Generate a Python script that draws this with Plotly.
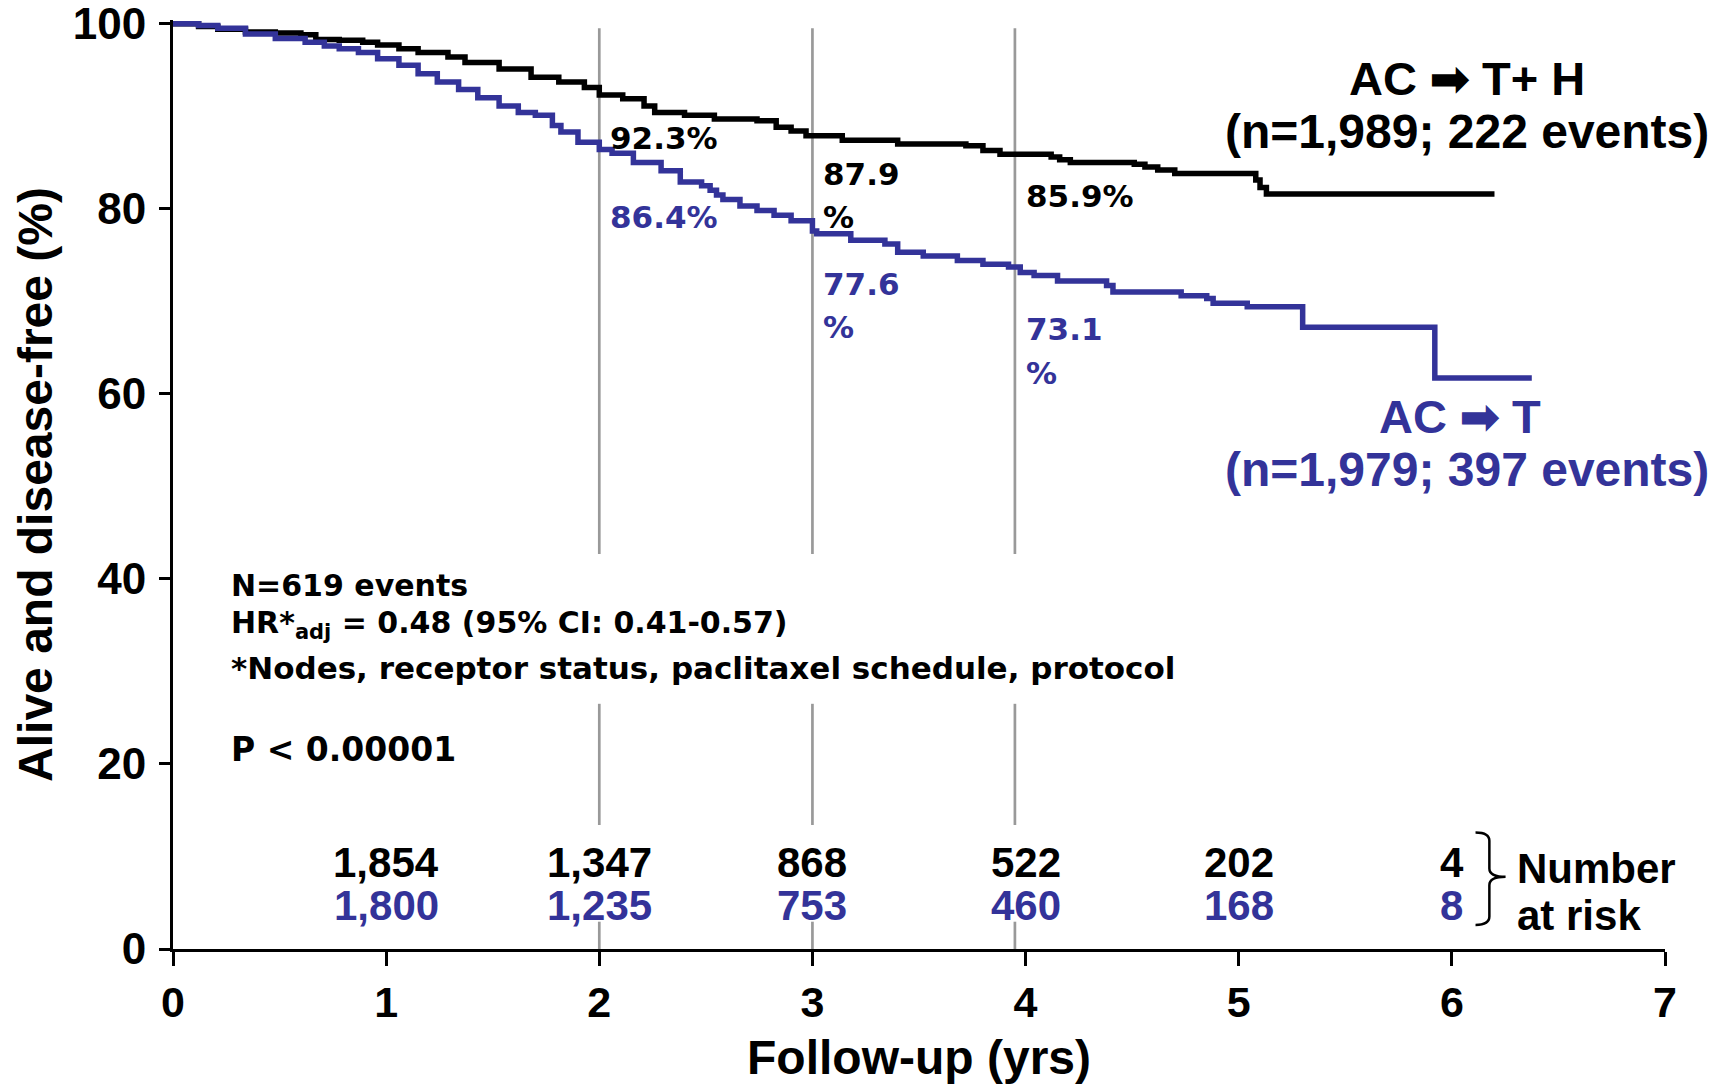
import plotly.graph_objects as go

# Kaplan-Meier estimates: follow-up (years) and % alive and disease-free
acth_years = [0, 0.12, 0.21, 0.34, 0.48, 0.60, 0.67, 0.78, 0.89, 0.96, 1.06, 1.15,
              1.29, 1.37, 1.53, 1.68, 1.81, 1.93, 2.00, 2.11, 2.21, 2.26, 2.40, 2.54,
              2.74, 2.83, 2.90, 2.97, 3.14, 3.40, 3.72, 3.80, 3.88, 4.12, 4.16, 4.21,
              4.51, 4.56, 4.62, 4.70, 5.08, 5.10, 5.13, 6.20]
acth_dfs = [100, 99.7, 99.4, 99.1, 99.0, 98.8, 98.3, 98.2, 98.0, 97.7, 97.3, 96.9,
            96.4, 95.8, 95.1, 94.2, 93.7, 93.1, 92.3, 91.9, 91.1, 90.4, 90.1, 89.7,
            89.5, 88.8, 88.4, 87.9, 87.4, 87.0, 86.8, 86.3, 85.9, 85.6, 85.3, 85.0,
            84.8, 84.5, 84.2, 83.8, 83.1, 82.3, 81.6, 81.6]

act_years = [0, 0.12, 0.21, 0.34, 0.48, 0.62, 0.71, 0.78, 0.87, 0.96, 1.06, 1.15,
             1.24, 1.34, 1.43, 1.53, 1.62, 1.70, 1.78, 1.82, 1.90, 2.00, 2.06, 2.16,
             2.29, 2.38, 2.48, 2.52, 2.55, 2.58, 2.66, 2.74, 2.82, 2.90, 3.00, 3.02,
             3.18, 3.34, 3.40, 3.52, 3.68, 3.80, 3.92, 3.975, 4.04, 4.15, 4.38, 4.41,
             4.73, 4.85, 4.88, 5.04, 5.30, 5.92, 6.375]
act_dfs = [100, 99.8, 99.5, 98.9, 98.4, 98.0, 97.6, 97.3, 96.9, 96.2, 95.5, 94.6,
           93.7, 92.9, 92.0, 91.1, 90.4, 90.1, 89.0, 88.3, 87.2, 86.4, 86.0, 85.0,
           84.1, 82.9, 82.5, 82.0, 81.5, 81.0, 80.3, 79.8, 79.3, 78.7, 77.6, 77.3,
           76.6, 76.2, 75.3, 74.9, 74.4, 74.0, 73.7, 73.1, 72.8, 72.2, 71.7, 71.0,
           70.6, 70.3, 69.8, 69.4, 67.2, 61.7, 61.7]

# Landmark estimates (drawn at the guide lines)
landmark_years = [2, 3, 3.95]
acth_landmarks = [92.3, 87.9, 85.9]
act_landmarks = [86.4, 77.6, 73.1]

# Number at risk
risk_years = [1, 2, 3, 4, 5, 6]
risk_acth = ["1,854", "1,347", "868", "522", "202", "4"]
risk_act = ["1,800", "1,235", "753", "460", "168", "8"]

x_ticks = [0, 1, 2, 3, 4, 5, 6, 7]
y_ticks = [0, 20, 40, 60, 80, 100]

BLACK = "#000000"
BLUE = "#333399"
GRAY = "#999999"
ARIAL = "Liberation Sans, Arial, sans-serif"
WIDE = "DejaVu Sans, Verdana, sans-serif"

fig = go.Figure()

# Vertical guide lines at the landmark times, broken where text boxes sit
guide_spans = [(0, 2.95), (13.4, 26.5), (42.7, 99.5)]
gx, gy = [], []
for yr in landmark_years:
    for lo, hi in guide_spans:
        gx += [yr, yr, None]
        gy += [lo, hi, None]
fig.add_trace(go.Scatter(x=gx, y=gy, mode="lines",
                         line=dict(color=GRAY, width=2.7),
                         hoverinfo="skip", showlegend=False))

fig.add_trace(go.Scatter(x=acth_years, y=acth_dfs, mode="lines", name="AC → T+ H",
                         line=dict(color=BLACK, width=5.5, shape="hv"),
                         showlegend=False))
fig.add_trace(go.Scatter(x=act_years, y=act_dfs, mode="lines", name="AC → T",
                         line=dict(color=BLUE, width=5.5, shape="hv"),
                         showlegend=False))

ann = []


def label(x, y, text, color=BLACK, size=31, family=WIDE, xanchor="left", **kw):
    ann.append(dict(x=x, y=y, xref="x", yref="y", text=text, showarrow=False,
                    xanchor=xanchor, yanchor="middle",
                    font=dict(family=family, size=size, color=color, weight="bold"),
                    **kw))


# Landmark percentages; values at 3 and 4 years wrap onto a second line
pct_offset = 0.042
line_gap = 4.7
acth_label_y = [87.7, 83.8, 81.4]
act_label_y = [79.1, 71.9, 67.0]
acth_wrap = [False, True, False]
act_wrap = [False, True, True]
for yr, v, ly, wrap in zip(landmark_years, acth_landmarks, acth_label_y, acth_wrap):
    if wrap:
        label(yr + pct_offset, ly, f"{v:.1f}")
        label(yr + pct_offset, ly - line_gap, "%")
    else:
        label(yr + pct_offset, ly, f"{v:.1f}%")
for yr, v, ly, wrap in zip(landmark_years, act_landmarks, act_label_y, act_wrap):
    if wrap:
        label(yr + pct_offset, ly, f"{v:.1f}", color=BLUE)
        label(yr + pct_offset, ly - line_gap, "%", color=BLUE)
    else:
        label(yr + pct_offset, ly, f"{v:.1f}%", color=BLUE)

# Arm labels
arm_x = 6.07
label(arm_x, 94.1, "AC ➡ T+ H", size=47, family=ARIAL, xanchor="center")
label(arm_x, 88.3, "(n=1,989; 222 events)", size=48, family=ARIAL, xanchor="center")
label(arm_x, 57.6, "AC ➡ T", color=BLUE, size=47, family=ARIAL, xanchor="center",
      xshift=-7)
label(arm_x, 51.8, "(n=1,979; 397 events)", color=BLUE, size=48, family=ARIAL,
      xanchor="center")

# Statistics block
stat_x = 0.265
label(stat_x, 39.3, "N=619 events", size=30)
label(stat_x, 35.1, "HR*<sub>adj</sub> = 0.48 (95% CI: 0.41-0.57)", size=30)
label(stat_x, 30.4, "*Nodes, receptor status, paclitaxel schedule, protocol")
label(stat_x, 21.6, "P < 0.00001", size=33)

# Number-at-risk table
for yr, a, b in zip(risk_years, risk_acth, risk_act):
    label(yr, 9.4, a, size=42, family=ARIAL, xanchor="center")
    label(yr, 4.7, b, color=BLUE, size=42, family=ARIAL, xanchor="center")
label(6.297, 8.75, "Number", size=42, family=ARIAL)
label(6.297, 3.6, "at risk", size=42, family=ARIAL)

# Brace grouping the two at-risk rows
bx0, bx1, bxt = 6.111, 6.176, 6.252
by_top, by_mid, by_bot, r = 12.6, 7.8, 2.6, 0.9
brace = (f"M {bx0},{by_top} Q {bx1},{by_top} {bx1},{by_top - r} "
         f"L {bx1},{by_mid + r} Q {bx1},{by_mid} {bxt},{by_mid} "
         f"Q {bx1},{by_mid} {bx1},{by_mid - r} "
         f"L {bx1},{by_bot + r} Q {bx1},{by_bot} {bx0},{by_bot}")

fig.update_layout(
    width=1721, height=1084,
    margin=dict(l=173, r=56, t=20, b=135, pad=0),
    paper_bgcolor="white", plot_bgcolor="white",
    annotations=ann,
    shapes=[dict(type="path", path=brace, xref="x", yref="y",
                 line=dict(color=BLACK, width=2.5))],
    xaxis=dict(range=[0, 7], tickvals=x_ticks, ticks="outside", ticklen=14,
               tickwidth=3, tickcolor=BLACK, showline=True, linewidth=3,
               linecolor=BLACK, showgrid=False, zeroline=False,
               ticklabelstandoff=-1, ticklabeloverflow="allow", automargin=False,
               tickfont=dict(family=ARIAL, size=43, color=BLACK, weight="bold"),
               title=dict(text="Follow-up (yrs)", standoff=19,
                          font=dict(family=ARIAL, size=48, color=BLACK,
                                    weight="bold"))),
    yaxis=dict(range=[0, 100.4], tickvals=y_ticks, ticks="outside", ticklen=11,
               tickwidth=3, tickcolor=BLACK, showline=True, linewidth=3,
               linecolor=BLACK, showgrid=False, zeroline=False,
               ticklabelstandoff=4, ticklabeloverflow="allow", automargin=False,
               tickfont=dict(family=ARIAL, size=44, color=BLACK, weight="bold"),
               title=dict(text="Alive and disease-free (%)", standoff=5,
                          font=dict(family=ARIAL, size=48, color=BLACK,
                                    weight="bold"))),
)

fig.write_html("out.html")
